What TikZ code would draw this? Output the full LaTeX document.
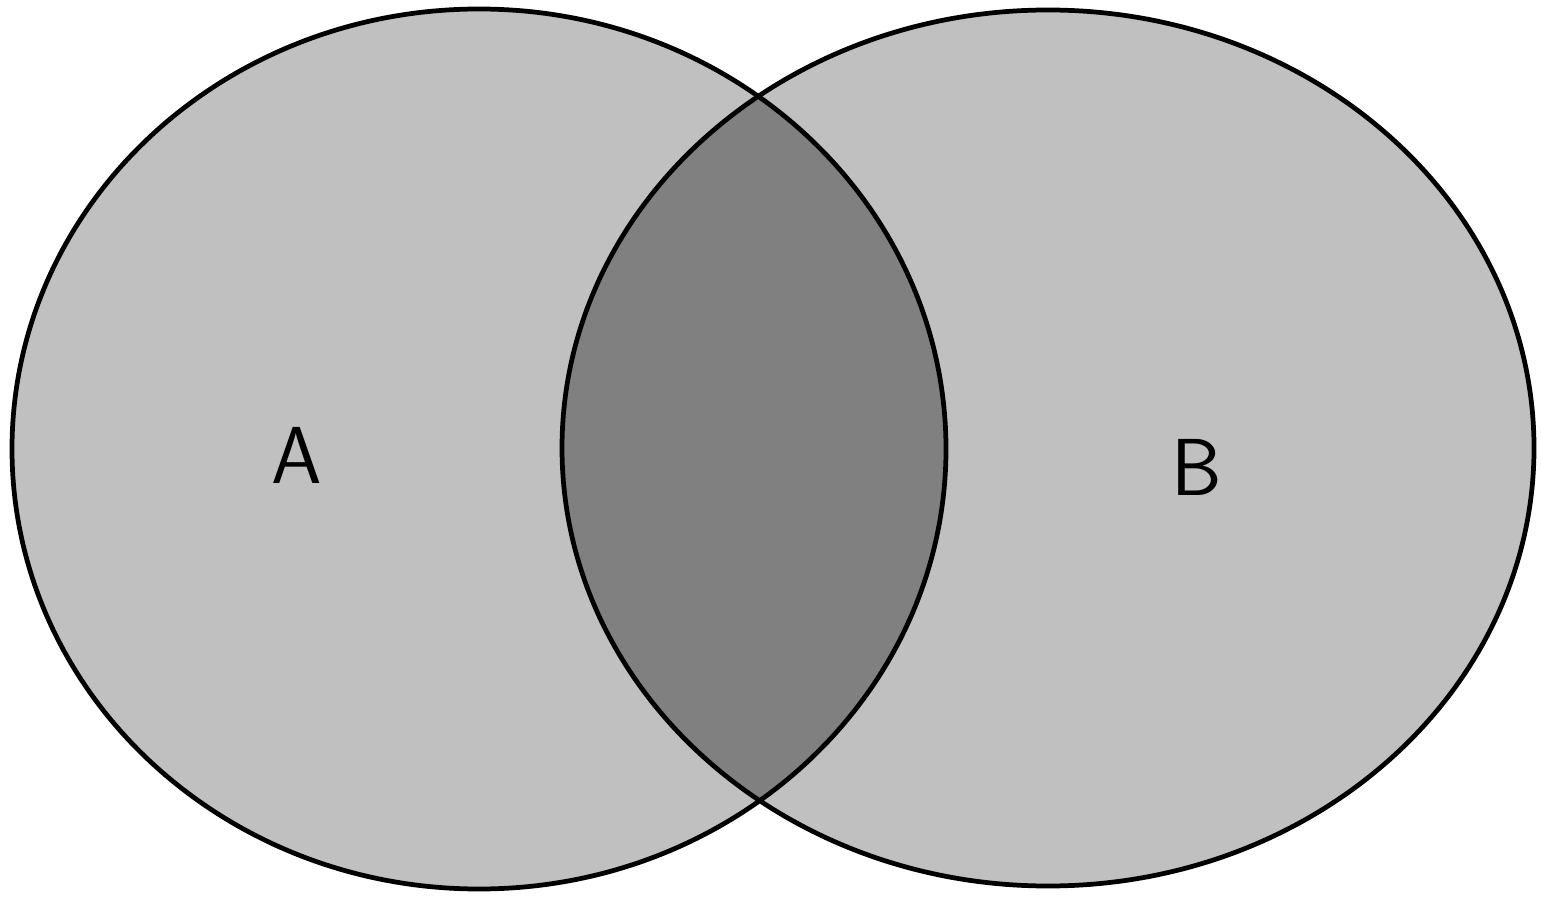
\documentclass[tikz,border=0pt]{standalone}
\usepackage{tikz}
\usetikzlibrary{positioning}
\definecolor{setgray}{RGB}{192, 192, 192}
\definecolor{meetgray}{RGB}{128, 128, 128}

\begin{document}
\begin{tikzpicture}[
    every node/.style={font=\fontsize{46}{46}\selectfont\sffamily},
    setline/.style={line width=2.7pt, draw=black}
]
\useasboundingbox (0,0) rectangle (30.84,17.92);
% the two sets
\coordinate (ca) at (9.58,8.94);
\coordinate (cb) at (20.96,8.96);
\fill[setgray] (ca) ellipse [x radius=9.34cm, y radius=8.80cm];
\fill[setgray] (cb) ellipse [x radius=9.72cm, y radius=8.76cm];
% intersection
\begin{scope}
  \clip (ca) ellipse [x radius=9.34cm, y radius=8.80cm];
  \fill[meetgray] (cb) ellipse [x radius=9.72cm, y radius=8.76cm];
\end{scope}
\draw[setline] (ca) ellipse [x radius=9.34cm, y radius=8.80cm];
\draw[setline] (cb) ellipse [x radius=9.72cm, y radius=8.76cm];
\node (seta) at (5.94,8.82) {A};
\node (setb) at (23.94,8.58) {B};
\end{tikzpicture}
\end{document}
